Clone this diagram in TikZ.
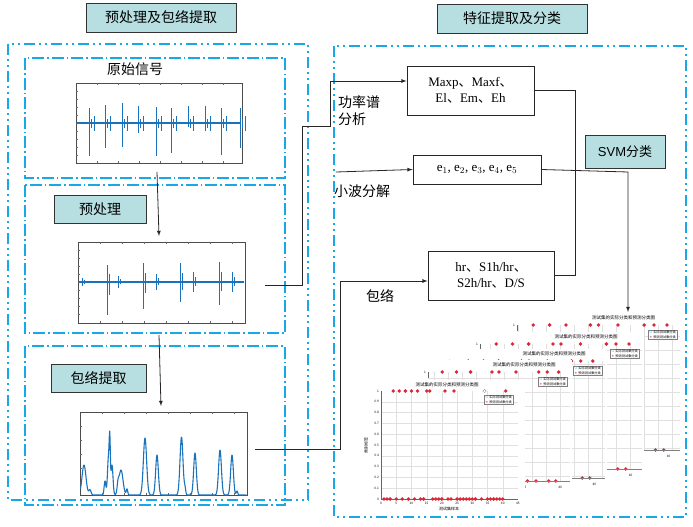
\documentclass[tikz,border=0pt]{standalone}
\usepackage{fontspec}
\setmainfont{Liberation Serif}
\newfontfamily\cjk{Noto Sans CJK SC}
\newfontfamily\sans{Liberation Sans}
\newcommand\dun{{\cjk 、}}
\definecolor{dblue}{HTML}{1AA7E6}
\definecolor{tealf}{HTML}{B7DFE1}
\definecolor{sig}{HTML}{1A72BD}
\definecolor{dotred}{HTML}{D8283A}
\tikzset{
 outer/.style={draw=dblue,line width=2.4pt,dash pattern=on 11pt off 4pt on 2pt off 4pt on 2pt off 4pt},
 inner/.style={draw=dblue,line width=1.3pt,dash pattern=on 12pt off 3pt on 1.5pt off 3pt},
 title/.style={draw=black!80,fill=tealf,line width=0.8pt,font=\cjk\fontsize{14}{16}\selectfont,inner sep=0pt},
 feat/.style={draw=black!85,fill=white,line width=0.8pt,inner sep=0pt,align=center,font=\fontsize{13}{16}\selectfont},
 conn/.style={draw=black!85,line width=0.8pt},
 arr/.style={conn,-latex},
 lbl/.style={font=\cjk\fontsize{14}{17}\selectfont,inner sep=0pt,align=left},
 axbox/.style={draw=black!70,line width=0.6pt,fill=white},
 tiny/.style={font=\cjk\fontsize{3.2}{4}\selectfont,inner sep=0pt},
 declare function={g(\a,\c,\w)=exp(-(min(abs(\a-\c)/\w,7))^2);},
}
\newcommand\rdot[1]{\fill[dotred] #1 circle (1.9pt);}
\newcommand\mybplot[4]{%
 \fill[white] (#1-8,#2-12) rectangle (#3+2,#4+10);
 \draw[black!12,line width=0.3pt] (#1,#2) grid[step=14pt] (#3,#4);
 \draw[black!60,line width=0.5pt] (#1,#2) -- (#1,#2+6);
 \node[tiny,anchor=east] at (#1-2,#2) {1};
 \node[tiny,font=\cjk\fontsize{4.5}{5}\selectfont] at ({(#1+#3)/2+25},#2-7) {测试集的实际分类和预测分类图};
 \foreach \f in {0.1,0.2,0.3,0.45,0.5,0.62,0.78,0.84,0.92} {\rdot{({#1+\f*(#3-#1)},#2)}}
 \foreach \f in {0.55,0.62,0.7,0.76,0.85,0.9} {\rdot{({#1+\f*(#3-#1)},#4)}}
 \draw[black!50,line width=0.4pt] (#1+0.5*#3-0.5*#1,#4) -- (#3,#4);
 \node[tiny] at ({#1+0.68*(#3-#1)},#4+6) {35};
 \node[tiny] at ({#1+0.93*(#3-#1)},#4+6) {40};
 \node[draw=black!50,fill=white,line width=0.3pt,inner sep=1pt,align=left,font=\cjk\fontsize{3.2}{4.5}\selectfont,anchor=north east] at (#3-3,#2+5) {{\color{dblue}$\circ$} 实际测试集分类\\{\color{dotred}$*$} 预测测试集分类};
}
\begin{document}
\begin{tikzpicture}[x=1pt,y=-1pt]
\useasboundingbox (0,0) rectangle (693,527);
% titles
\node[title,minimum width=150pt,minimum height=29pt] (t1) at (161,17.5) {预处理及包络提取};
\node[title,minimum width=150pt,minimum height=29pt] (t2) at (512,18.5) {特征提取及分类};
% outer boxes
\draw[outer] (8,44) rectangle (308,500);
\draw[outer] (334,46) rectangle (686,517);
% inner boxes
\draw[inner] (25,58) rectangle (285,178);
\draw[inner] (25,185) rectangle (285,333);
\draw[inner] (25,346) rectangle (285,505);
\node[lbl] (y1) at (135,69) {原始信号};
% plot 1
\draw[axbox] (76,83) rectangle (242,163);
\foreach \x in {97,118,139,160,181,202,223} {\draw[black!60,line width=0.3pt] (\x,83)--(\x,85) (\x,163)--(\x,161);}
\foreach \y in {91,99,107,115,123,131,139,147,155} {\draw[black!60,line width=0.3pt] (76,\y)--(78,\y);}
\draw[sig,line width=1.4pt] (77,123) -- (241,123);
\foreach \x/\u/\d in {89/15/33,105/18/25,122/20/24,138/17/10,156/16/33,171/15/30,188/17/4,205/17/8,221/15/32,240/15/25}{
 \draw[sig,line width=0.9pt] (\x,123-\u) -- (\x,123+\d);
 \draw[sig,line width=0.8pt] (\x+5,123-7) -- (\x+5,123+8);
 \draw[sig,line width=0.6pt] (\x+2,123-4) -- (\x+2,123+5);
}
% preprocess
\node[title,minimum width=92pt,minimum height=28pt] (pp) at (100,209) {预处理};
\coordinate (a1) at (157,172);
\coordinate (a2) at (159,236);
\draw[arr] (a1) -- (a2);
% plot 2
\draw[axbox] (78,242) rectangle (245,323);
\foreach \x in {100,122,144,166,188,210,232} {\draw[black!60,line width=0.3pt] (\x,242)--(\x,244) (\x,323)--(\x,321);}
\foreach \y in {250,258,266,274,282,290,298,306,314} {\draw[black!60,line width=0.3pt] (78,\y)--(80,\y);}
\draw[sig,line width=1.2pt] (79,282) -- (244,282);
\foreach \x/\u/\d in {82/4/4,107/17/33,118/6/6,143/19/27,156/8/8,180/19/20,193/10/10,219/20/23,232/10/10}{
 \draw[sig,line width=1pt] (\x,282-\u) -- (\x,282+\d);
 \draw[sig,line width=0.7pt] (\x+2,282-\u*0.5) -- (\x+2,282+\d*0.4);
}
% envelope
\node[title,minimum width=95pt,minimum height=28pt] (env) at (98.5,378) {包络提取};
\coordinate (b1) at (159,335);
\coordinate (b2) at (161,406);
\draw[arr] (b1) -- (b2);
\draw[axbox] (80,412) rectangle (247,495);
\foreach \x in {102,124,146,168,190,212,234} {\draw[black!60,line width=0.3pt] (\x,412)--(\x,414) (\x,495)--(\x,493);}
\foreach \y in {426,440,454,468,482} {\draw[black!60,line width=0.3pt] (80,\y)--(82,\y);}
\draw[sig,line width=1.1pt,line join=round] plot[domain=80.5:246.5,samples=500] (\x,{495-30*g(\x,84,2.8)-5*g(\x,90,1.5)-14*g(\x,105,1.2)-38*g(\x,108.5,1.4)-45*g(\x,109.8,0.8)-30*g(\x,112,1.4)-8*g(\x,118,1.2)-25*g(\x,121,2.8)-6*g(\x,127,1)-57*g(\x,145,2.3)-40*g(\x,157,1.9)-58*g(\x,181.5,2.1)-6*g(\x,185,1)-42*g(\x,195,1.9)-45*g(\x,220,2)-40*g(\x,232,1.9)-4*g(\x,237,1)});
% feature boxes
\node[feat,minimum width=127pt,minimum height=49pt] (f1) at (470.5,90.5) {Maxp\dun Maxf\dun\\El\dun Em\dun Eh};
\node[feat,minimum width=128pt,minimum height=29pt] (f2) at (477,169.5) {e$_1$, e$_2$, e$_3$, e$_4$, e$_5$};
\node[feat,minimum width=126pt,minimum height=49pt] (f3) at (491,275.5) {hr\dun S1h/hr\dun\\S2h/hr\dun D/S};
\node[title,font=\sans\fontsize{13}{15}\selectfont,minimum width=80pt,minimum height=33pt] (svm) at (625,151.5) {SVM\cjk 分类};
\node[lbl] (l1) at (359,111) {功率谱\\分析};
\node[lbl] (l2) at (362,191) {小波分解};
\node[lbl] (l3) at (380,296) {包络};
% connectors
\coordinate (c1) at (265,285);
\coordinate (c2) at (255,449);
\coordinate (c3) at (336,172);
\draw[arr] (c1) -- (302,285) -- (302,126) -- (330,126) -- (330,81) -- (f1.west|-0,81);
\draw[arr] (c3) -- (f2.west);
\draw[arr] (c2) -- (340,449) -- (340,281) -- (f3.west|-0,281);
\draw[conn] (f1.east|-0,90) -- (575,90) -- (575,275) -- (f3.east|-0,275);
\coordinate (c4) at (628,312);
\draw[arr] (f2.east) -- (628,172) -- (c4);
% stacked result plots
\mybplot{517}{325}{680}{450}
\mybplot{480}{344}{642}{469}
\mybplot{453}{361}{605}{478}
\mybplot{428}{372}{570}{481}
% front plot
\fill[white] (360,380) rectangle (525,512);
\draw[black!12,line width=0.3pt] foreach \i in {1,...,9} {(381,{499-10.8*\i}) -- (518,{499-10.8*\i})};
\draw[black!12,line width=0.3pt] foreach \i in {1,...,8} {({381+15.22*\i},391) -- ({381+15.22*\i},499)};
\draw[black!60,line width=0.5pt] (381,391) -- (381,499) -- (518,499);
\foreach \i/\t in {0/0,1/0.1,2/0.2,3/0.3,4/0.4,5/0.5,6/0.6,7/0.7,8/0.8,9/0.9,10/1} {\node[tiny,anchor=east] at (379,{499-10.8*\i}) {\t};}
\foreach \i in {0,...,9} {\node[tiny] at ({381+15.22*\i},503) {\pgfmathparse{int(5*\i)}\pgfmathresult};}
\node[tiny,font=\cjk\fontsize{4.5}{5}\selectfont] at (447,385) {测试集的实际分类和预测分类图};
\node[tiny,font=\cjk\fontsize{4}{5}\selectfont] at (449,509) {测试集样本};
\node[tiny,font=\cjk\fontsize{4}{5}\selectfont,rotate=90] at (366,445) {类别标签};
\foreach \s in {4,6,8,10,12,15,16,21,24,34,41} {\rdot{({381+3.044*\s},391)}}
\foreach \s in {1,2,3,5,7,9,11,13,14,17,18,19,20,22,23,25,26,27,28,29,30,31,33,35,36,37,38,39,40} {\rdot{({381+3.044*\s},499)}}
\fill[white,draw=dblue!60,line width=0.3pt] ({381+3.044*34},391) circle (1.5pt);
\node[draw=black!50,fill=white,line width=0.3pt,inner sep=1pt,align=left,font=\cjk\fontsize{3.2}{4.5}\selectfont,anchor=north east] at (513,395) {{\color{dblue}$\circ$} 实际测试集分类\\{\color{dotred}$*$} 预测测试集分类};
\end{tikzpicture}
\end{document}
